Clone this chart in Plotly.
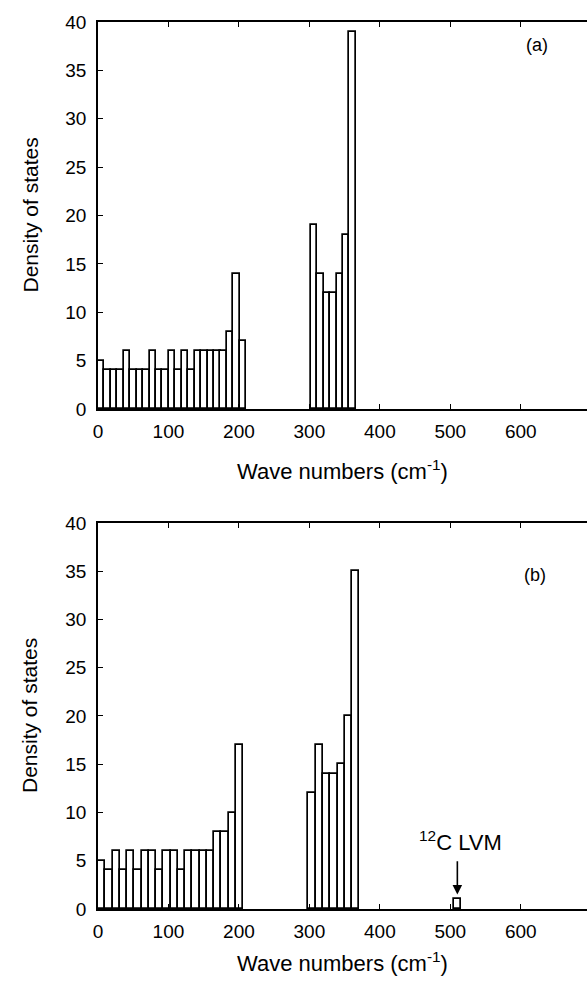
import plotly.graph_objects as go

# ---- data ----
# panel (a): bin centres (cm^-1) and density of states
wn_a = [4.6, 13.7, 22.9, 32.0, 41.2, 50.3, 59.5, 68.6, 77.8, 86.9, 96.1, 105.2,
        114.4, 123.5, 132.7, 141.8, 151.0, 160.1, 169.3, 178.4, 187.6, 196.7, 205.9,
        306.5, 315.7, 324.8, 334.0, 343.1, 352.3, 361.4]
dos_a = [5, 4, 4, 4, 6, 4, 4, 4, 6, 4, 4, 6,
         4, 6, 4, 6, 6, 6, 6, 6, 8, 14, 7,
         19, 14, 12, 12, 14, 18, 39]
bin_w_a = 9.15

# panel (b)
wn_b = [5.15, 15.45, 25.75, 36.05, 46.35, 56.65, 66.95, 77.25, 87.55, 97.85,
        108.15, 118.45, 128.75, 139.05, 149.35, 159.65, 169.95, 180.25, 190.55, 200.85,
        303.85, 314.15, 324.45, 334.75, 345.05, 355.35, 365.65,
        509.85]
dos_b = [5, 4, 6, 4, 6, 4, 6, 6, 4, 6,
         6, 4, 6, 6, 6, 6, 8, 8, 10, 17,
         12, 17, 14, 14, 15, 20, 35,
         1]
bin_w_b = 10.3

x_ticks = [0, 100, 200, 300, 400, 500, 600]
y_ticks = [0, 5, 10, 15, 20, 25, 30, 35, 40]

FONT = "Arial, Liberation Sans, Helvetica, sans-serif"

fig = go.Figure()
fig.add_trace(go.Bar(x=wn_a, y=dos_a, width=bin_w_a, xaxis="x", yaxis="y",
                     marker=dict(color="white", line=dict(color="black", width=1.7)),
                     showlegend=False))
fig.add_trace(go.Bar(x=wn_b, y=dos_b, width=bin_w_b, xaxis="x2", yaxis="y2",
                     marker=dict(color="white", line=dict(color="black", width=1.7)),
                     showlegend=False))

xcommon = dict(range=[0, 694], tickvals=x_ticks, ticks="inside", ticklen=5,
               tickcolor="black", showline=True, linecolor="black", linewidth=1.5,
               mirror="ticks", showgrid=False, zeroline=False,
               tickfont=dict(family=FONT, size=19, color="black"),
               ticklabelstandoff=4)
ycommon = dict(range=[0, 40], tickvals=y_ticks, ticks="inside", ticklen=5,
               tickcolor="black", showline=True, linecolor="black", linewidth=1.5,
               showgrid=False, zeroline=False,
               tickfont=dict(family=FONT, size=19, color="black"),
               ticklabelstandoff=6)

fig.update_layout(
    width=587, height=986,
    margin=dict(l=98, r=0, t=22, b=77),
    paper_bgcolor="white", plot_bgcolor="white",
    bargap=0,
    xaxis=dict(**xcommon, domain=[0, 1], anchor="y"),
    yaxis=dict(**ycommon, domain=[0.5637, 1.0], anchor="x"),
    xaxis2=dict(**xcommon, domain=[0, 1], anchor="y2"),
    yaxis2=dict(**ycommon, domain=[0.0, 0.4352], anchor="x2"),
)

ann = []
for xa, ya, dy in (("x", "y", -0.158), ("x2", "y2", -0.137)):
    ann.append(dict(text="Wave numbers (cm<sup>-1</sup>)", xref=f"{xa} domain",
                    yref=f"{ya} domain", x=0.5, y=dy, showarrow=False,
                    xanchor="center", yanchor="middle",
                    font=dict(family=FONT, size=22, color="black")))
    ann.append(dict(text="Density of states", xref="paper", yref=f"{ya} domain",
                    x=-0.139, y=0.5, textangle=-90, showarrow=False,
                    xanchor="center", yanchor="middle",
                    font=dict(family=FONT, size=21, color="black")))

ann.append(dict(text="(a)", xref="x domain", yref="y domain", x=0.898, y=0.94,
                showarrow=False, xanchor="center", yanchor="middle",
                font=dict(family=FONT, size=18, color="black")))
ann.append(dict(text="(b)", xref="x2 domain", yref="y2 domain", x=0.893, y=0.865,
                showarrow=False, xanchor="center", yanchor="middle",
                font=dict(family=FONT, size=18, color="black")))
ann.append(dict(text="<sup>12</sup>C LVM", xref="x2", yref="y2", x=514, y=7.0,
                showarrow=False, font=dict(family=FONT, size=22, color="black")))
ann.append(dict(text="", xref="x2", yref="y2", x=510, y=1.5, ax=510, ay=5.1,
                axref="x2", ayref="y2", showarrow=True, arrowhead=2,
                arrowsize=1.2, arrowwidth=1.6, arrowcolor="black"))
fig.update_layout(annotations=ann)

fig.write_html("out.html")
